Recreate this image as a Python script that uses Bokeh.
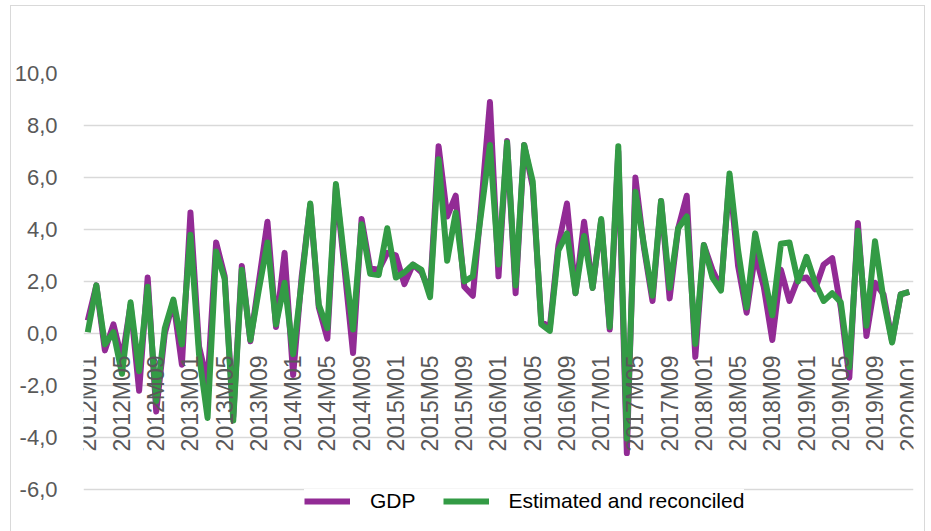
from bokeh.plotting import figure
from bokeh.models import Range1d, FixedTicker, Legend, LegendItem, ColumnDataSource
from bokeh.embed import file_html
from bokeh.resources import INLINE

years = list(range(2012, 2021))
months = [f"{y}M{m:02d}" for y in years for m in range(1, 13)][:97]

gdp = [0.5, 1.85, -0.65, 0.35, -1.0, 1.1, -2.2, 2.15, -3.0, 0.0, 1.25, -1.2,
       4.65, -0.5, -1.9, 3.5, 2.2, -3.2, 2.6, -0.3, 2.0, 4.3, 0.25, 3.1,
       -1.6, 2.2, 4.95, 1.0, -0.2, 5.65, 2.5, -0.75, 4.4, 2.5, 2.45, 3.1,
       3.0, 1.9, 2.65, 2.35, 1.6, 7.2, 4.5, 5.3, 1.8, 1.45, 5.0, 8.9,
       2.2, 7.4, 1.55, 7.25, 5.65, 0.45, 0.25, 3.4, 5.0, 1.55, 4.3, 1.75,
       4.35, 0.15, 7.0, -4.6, 6.0, 3.3, 1.25, 5.1, 1.35, 4.05, 5.3, -0.9,
       3.4, 2.45, 1.75, 6.0, 2.6, 0.8, 3.05, 1.8, -0.25, 2.45, 1.25, 2.1,
       2.15, 1.7, 2.65, 2.9, 1.0, -1.7, 4.25, -0.1, 1.95, 1.5, -0.3, 1.5,
       1.6]

estimated = [0.05, 1.85, -0.42, 0.05, -1.55, 1.2, -1.45, 1.8, -2.6, 0.2, 1.3, -0.42,
             3.8, -0.8, -3.25, 3.15, 2.1, -3.35, 2.45, -0.25, 1.7, 3.5, 0.35, 1.95,
             -0.8, 2.0, 5.0, 1.1, 0.2, 5.75, 2.8, 0.15, 4.2, 2.3, 2.25, 4.05,
             2.15, 2.35, 2.65, 2.45, 1.4, 6.7, 2.8, 4.65, 2.0, 2.2, 4.7, 7.25,
             2.65, 7.35, 1.85, 7.25, 5.85, 0.35, 0.1, 3.2, 3.85, 1.55, 3.75, 1.75,
             4.4, 0.25, 7.2, -4.05, 5.45, 3.4, 1.45, 5.1, 1.75, 4.05, 4.5, -0.4,
             3.4, 2.15, 1.65, 6.15, 3.2, 1.0, 3.85, 2.3, 0.7, 3.45, 3.5, 2.0,
             2.95, 1.95, 1.25, 1.55, 1.2, -1.3, 3.95, 0.3, 3.55, 1.3, -0.35, 1.5,
             1.6]

y_ticks = [-6, -4, -2, 0, 2, 4, 6, 8, 10]
y_tick_labels = ["-6,0", "-4,0", "-2,0", "0,0", "2,0", "4,0", "6,0", "8,0", "10,0"]
x_tick_step = 4
series_names = ["GDP", "Estimated and reconciled"]

idx = list(range(len(months)))
src = ColumnDataSource(dict(x=idx, gdp=gdp, est=estimated))

p = figure(width=915, height=526, output_backend="svg", toolbar_location=None,
           x_range=Range1d(-0.5, len(months) - 0.5), y_range=Range1d(-7.04, 10),
           min_border_left=72, min_border_right=13, min_border_top=67, min_border_bottom=16)
p.styles = {"margin-left": "10px", "margin-top": "5px",
            "border-left": "1.5px solid #d9d9d9", "border-top": "1.5px solid #d9d9d9",
            "border-right": "1.5px solid #d9d9d9", "box-sizing": "border-box"}
p.outline_line_color = None
p.background_fill_color = "white"
p.border_fill_color = "white"

r1 = p.line("x", "gdp", source=src, line_color="#922b95", line_width=6, line_join="round")
r2 = p.line("x", "est", source=src, line_color="#339b45", line_width=6, line_join="round")

# y axis
p.yaxis.ticker = FixedTicker(ticks=y_ticks)
p.yaxis.major_label_overrides = {t: l for t, l in zip(y_ticks, y_tick_labels)}
p.yaxis.axis_line_color = None
p.yaxis.major_tick_line_color = None
p.yaxis.minor_tick_line_color = None
p.yaxis.major_label_standoff = 20
p.yaxis.major_label_text_font = "Liberation Sans"
p.yaxis.major_label_text_font_size = "22px"
p.yaxis.major_label_text_color = "#595959"

# x axis at zero
xt = idx[::x_tick_step]
p.xaxis.ticker = FixedTicker(ticks=xt)
p.xaxis.major_label_overrides = {i: months[i] for i in xt}
p.xaxis.fixed_location = 0
p.xaxis.axis_line_color = None
p.xaxis.major_tick_line_color = None
p.xaxis.minor_tick_line_color = None
p.xaxis.major_label_orientation = 1.5708
p.xaxis.major_label_standoff = 16
p.xaxis.major_label_text_font = "Liberation Sans"
p.xaxis.major_label_text_font_size = "23px"
p.xaxis.major_label_text_color = "#595959"

p.xgrid.grid_line_color = None
p.ygrid.ticker = FixedTicker(ticks=y_ticks)
p.ygrid.grid_line_color = "#d9d9d9"
p.ygrid.grid_line_width = 1.5

legend = Legend(items=[LegendItem(label=series_names[0], renderers=[r1]),
                       LegendItem(label=series_names[1], renderers=[r2])],
                orientation="horizontal", location=(221, 3))
legend.padding = 0
legend.margin = 0
legend.border_line_color = None
legend.background_fill_color = "white"
legend.background_fill_alpha = 1.0
legend.glyph_width = 46
legend.label_standoff = 20
legend.spacing = 27
legend.label_text_font = "Liberation Sans"
legend.label_text_font_size = "21px"
legend.label_text_color = "black"
p.add_layout(legend)

open("out.html", "w").write(file_html(p, INLINE))
